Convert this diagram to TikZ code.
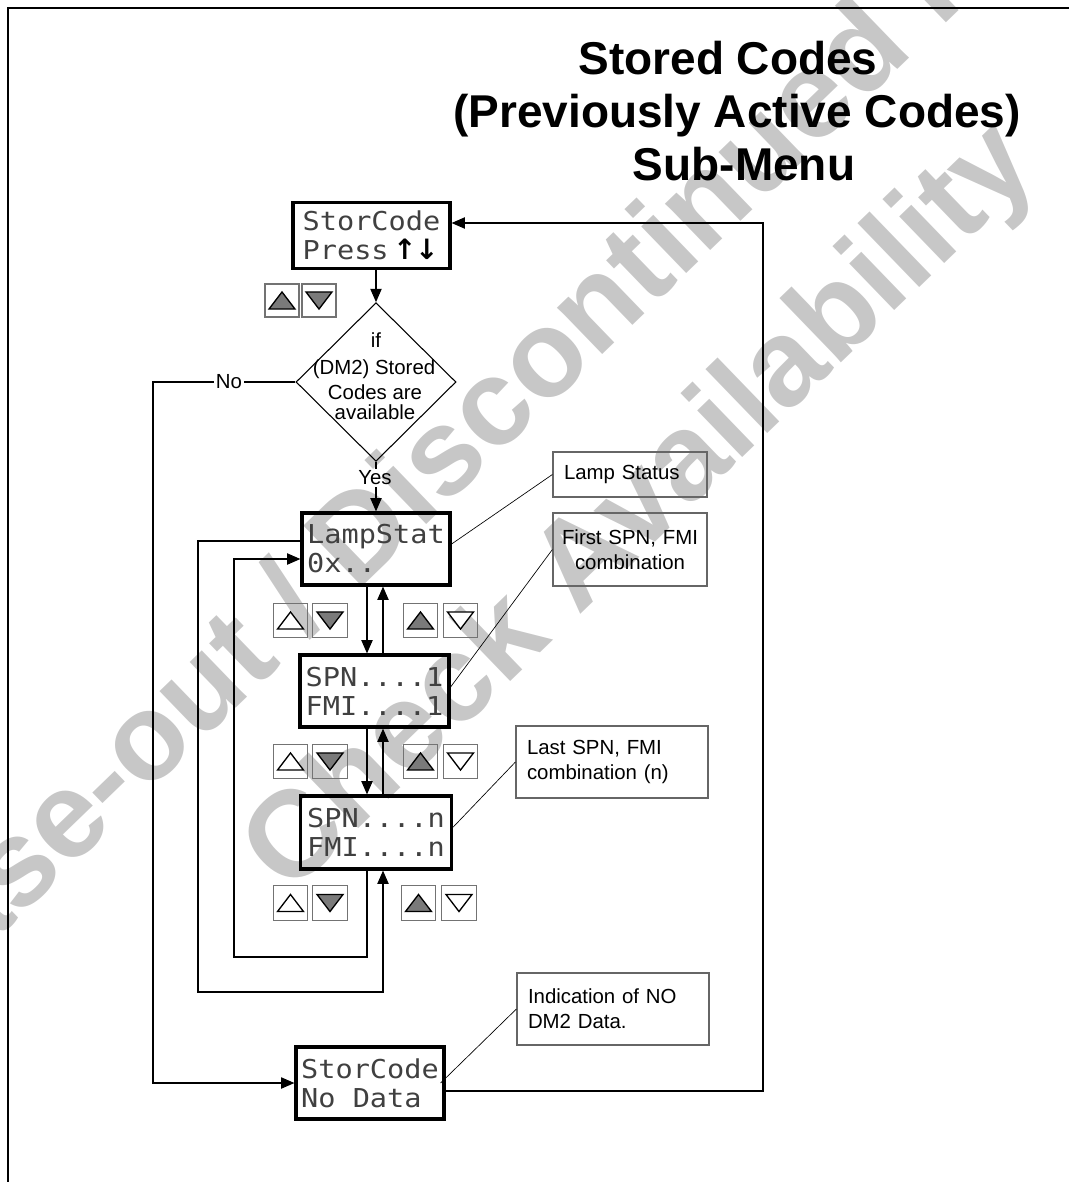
\documentclass[tikz,border=0pt]{standalone}
\usepackage{fontspec}
\setmainfont{Liberation Sans}
\newfontfamily\lcdf{DejaVu Sans Mono}
\newfontfamily\arrf{DejaVu Sans}
\usetikzlibrary{shapes.geometric,arrows.meta}
\newcommand{\lcdtxt}[1]{\scalebox{1.1}[1]{#1}}
\begin{document}
\begin{tikzpicture}[x=0.75pt,y=-0.75pt,
  lcd/.style={draw, line width=2.4pt, align=left, inner sep=0pt,
    font=\lcdf\fontsize{19.5}{21.75}\selectfont, text=black!75},
  lbl/.style={font=\fontsize{15.3}{18.75}\selectfont, inner sep=1.5pt},
  callout/.style={draw=black!60, line width=0.9pt, font=\fontsize{15.3}{18.75}\selectfont,
    inner xsep=8.25pt, inner ysep=0pt},
  arr/.style={line width=0.8pt, -{Triangle[length=10pt,width=8.5pt]}},
  conn/.style={line width=0.8pt},
  thinl/.style={line width=0.5pt},
  btn/.style={draw=black!55, line width=0.8pt, minimum width=26pt, minimum height=26pt, inner sep=0pt},
  btnup/.style={btn, path picture={\filldraw[fill=#1,draw=black,line width=1pt]
    ([shift={(-9.75pt,-6.4pt)}]path picture bounding box.center) --
    ([shift={(9.75pt,-6.4pt)}]path picture bounding box.center) --
    ([shift={(0pt,6.4pt)}]path picture bounding box.center) -- cycle;}},
  btndn/.style={btn, path picture={\filldraw[fill=#1,draw=black,line width=1pt]
    ([shift={(-9.75pt,6.4pt)}]path picture bounding box.center) --
    ([shift={(9.75pt,6.4pt)}]path picture bounding box.center) --
    ([shift={(0pt,-6.4pt)}]path picture bounding box.center) -- cycle;}},
  wm/.style={text=black!22, font=\bfseries\fontsize{92}{92}\selectfont, inner sep=0pt},
  ttl/.style={font=\bfseries\fontsize{34.5}{41}\selectfont, inner sep=0pt, anchor=base}
]
\useasboundingbox (0,0) rectangle (1068,1182);
\colorlet{btngray}{black!52}

% watermark
\begin{scope}
\clip (0,0) rectangle (1068,1182);
\node[wm, rotate=44, anchor=base] (wm1) at (565,391) {Phase-out / Discontinued Product};
\node[wm, rotate=44, anchor=base] (wm2) at (665,533) {Check Availability};
\end{scope}

% frame
\draw[line width=1.6pt] (8,1190) -- (8,8) -- (1075,8);

% title
\node[ttl] (t1) at (728,74) {Stored Codes};
\node[ttl] (t2) at (737,127) {(Previously Active Codes)};
\node[ttl] (t3) at (744,180) {Sub-Menu};

% LCD boxes
\node[lcd, minimum width=117.75pt, minimum height=49.5pt] (st) at (371.5,235.5)
  {\lcdtxt{StorCode}\\\lcdtxt{Press}\,{\arrf\bfseries\fontsize{21}{21}\selectfont\color{black}↑\kern-1pt↓}};
\node[lcd, minimum width=111pt, minimum height=54pt] (lamp) at (376,549)
  {\lcdtxt{LampStat}\\\lcdtxt{0x..}};
\node[lcd, minimum width=111.75pt, minimum height=54pt] (spn1) at (374.5,691)
  {\lcdtxt{SPN....1}\\\lcdtxt{FMI....1}};
\node[lcd, minimum width=113.25pt, minimum height=54.75pt] (spnn) at (376,832.5)
  {\lcdtxt{SPN....n}\\\lcdtxt{FMI....n}};
\node[lcd, minimum width=111pt, minimum height=54pt] (nd) at (370,1083)
  {\lcdtxt{StorCode}\\\lcdtxt{No Data}};

% decision
\node[diamond, draw, line width=0.8pt, minimum width=120pt, minimum height=119pt, inner sep=0pt] (dia) at (376,382) {};
\node[lbl, anchor=base] (d1) at (376,347) {if};
\node[lbl, anchor=base] (d2) at (374,374) {(DM2) Stored};
\node[lbl, anchor=base] (d3) at (375,399) {Codes are};
\node[lbl, anchor=base] (d4) at (375,419) {available};
\node[lbl] (no) at (229,382) {No};
\node[lbl] (yes) at (375,478) {Yes};

% callouts
\node[callout, text width=99pt, minimum width=115.5pt, minimum height=33.75pt, align=left] (cls) at (630,474.5) {Lamp Status};
\node[callout, inner xsep=2pt, text width=111.5pt, minimum width=115.5pt, minimum height=54.75pt, align=center] (cfs) at (630,549.5) {First SPN, FMI\\combination};
\node[callout, text width=127.5pt, minimum width=144pt, minimum height=54pt, align=left] (cln) at (612,762) {Last SPN, FMI\\combination (n)};
\node[callout, text width=127.5pt, minimum width=144pt, minimum height=54pt, align=left] (cind) at (613,1009) {Indication of NO\\DM2 Data.};

% buttons
\node[btnup=btngray, minimum width=25.5pt, minimum height=24.75pt] (bA1) at (282,300.5) {};
\node[btndn=btngray, minimum width=25.5pt, minimum height=24.75pt] (bA2) at (319,300.5) {};
\node[btnup=white] (bB1) at (290.5,620.5) {};
\node[btndn=btngray] (bB2) at (330,620.5) {};
\node[btnup=btngray] (bC1) at (420.5,620.5) {};
\node[btndn=white] (bC2) at (460.5,620.5) {};
\node[btnup=white] (bD1) at (290.5,761.5) {};
\node[btndn=btngray] (bD2) at (330,761.5) {};
\node[btnup=btngray] (bE1) at (420.5,761.5) {};
\node[btndn=white] (bE2) at (460.5,761.5) {};
\node[btnup=white] (bF1) at (290.5,903) {};
\node[btndn=btngray] (bF2) at (330,903) {};
\node[btnup=btngray] (bG1) at (418.5,903) {};
\node[btndn=white] (bG2) at (459,903) {};

% helper coordinates
\coordinate (xd) at (367,0);
\coordinate (xu) at (383,0);
\coordinate (nl) at (153,382);
\coordinate (lo) at (198,541);
\coordinate (lob) at (198,992);
\coordinate (lit) at (234,559);
\coordinate (lib) at (234,957);
\coordinate (rb) at (763,1091);
\coordinate (rt) at (763,223);

% connectors
\draw[arr] (dia.north |- st.south) -- (dia.north);
\draw[conn] (dia.west) -- (no.east);
\draw[arr] (no.west) -- (nl) |- (nd.west);
\draw[conn] (dia.south) -- (yes.north -| dia.south);
\draw[arr] (yes.south -| lamp.north) -- (lamp.north);
\draw[arr] (lamp.south -| xd) -- (spn1.north -| xd);
\draw[arr] (spn1.north -| xu) -- (lamp.south -| xu);
\draw[arr] (spn1.south -| xd) -- (spnn.north -| xd);
\draw[arr] (spnn.north -| xu) -- (spn1.south -| xu);
\draw[arr] (lamp.west |- lo) -- (lo) -- (lob) -- (lob -| xu) -- (spnn.south -| xu);
\draw[arr] (spnn.south -| xd) -- (lib -| xd) -- (lib) -- (lit) -- (lamp.west |- lit);
\draw[arr] (nd.east |- rb) -- (rb) -- (rt) -- (st.east |- rt);

% callout leaders
\draw[thinl] ([yshift=3.75pt]lamp.east) -- (cls.west);
\draw[thinl] ([yshift=3pt]spn1.east) -- (cfs.west);
\draw[thinl] ([yshift=4pt]spnn.east) -- (cln.west);
\draw[thinl] ([xshift=-3.75pt]nd.east) -- (cind.west);
\end{tikzpicture}
\end{document}
